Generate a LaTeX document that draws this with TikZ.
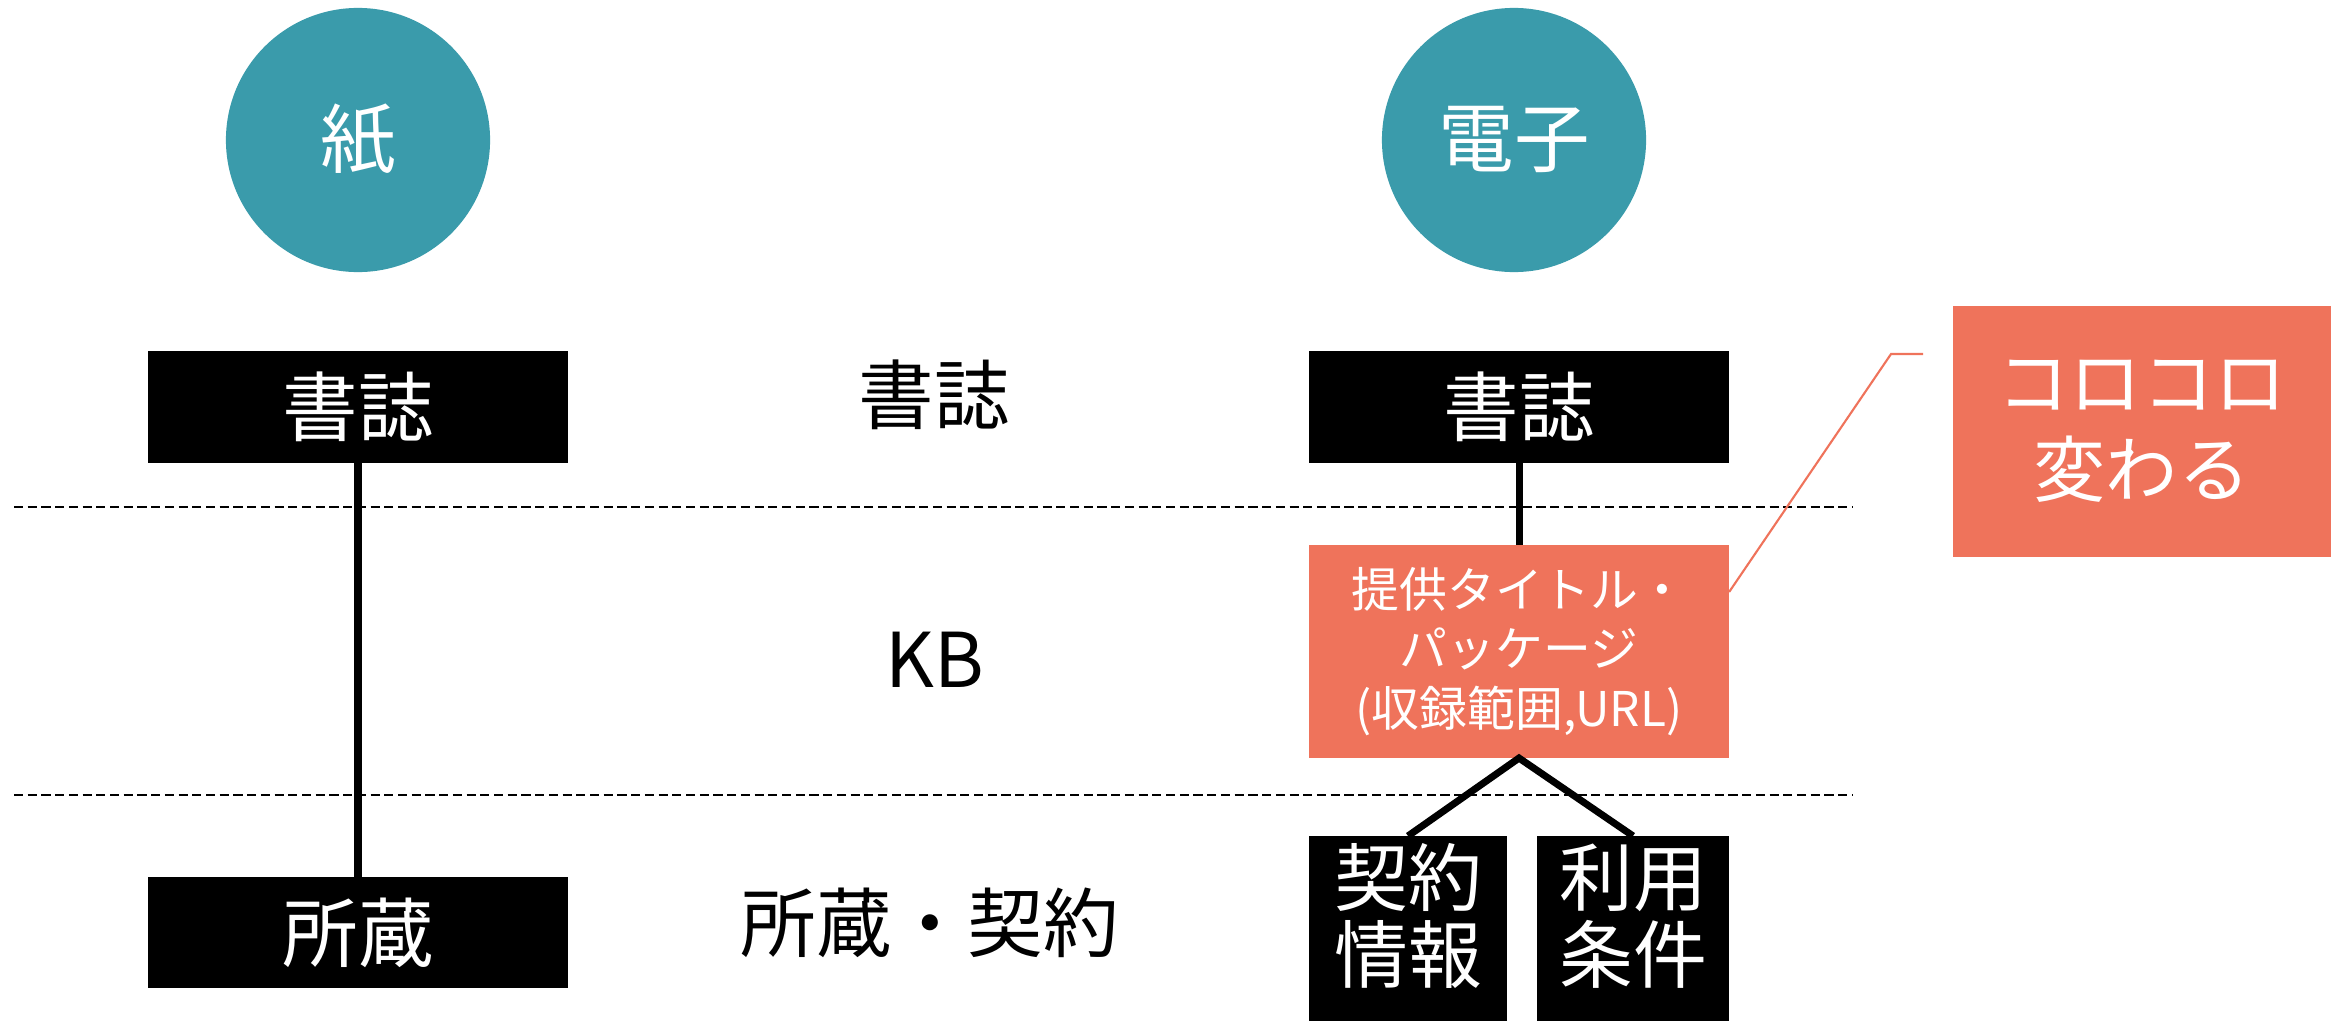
\documentclass[tikz,border=0pt]{standalone}
\usepackage{fontspec}
\setmainfont{Noto Sans CJK JP}
\definecolor{tealc}{RGB}{58,155,171}
\definecolor{coral}{RGB}{239,115,91}
\begin{document}
\begin{tikzpicture}[x=0.01cm,y=-0.01cm,
  bigfont/.style={font=\fontsize{21.5pt}{24pt}\selectfont},
  circ/.style={circle,fill=tealc,text=white,minimum size=2.64cm,inner sep=0pt,outer sep=0pt,bigfont},
  bbox/.style={fill=black,text=white,inner sep=0pt,outer sep=0pt,minimum width=4.2cm,minimum height=1.11cm,bigfont},
  plain/.style={text=black,inner sep=0pt,bigfont},
  obox/.style={fill=coral,text=white,inner sep=0pt,outer sep=0pt,align=center,font=\fontsize{13.6pt}{17pt}\selectfont},
  kbox/.style={fill=black,inner sep=0pt,outer sep=0pt,minimum height=1.85cm},
  ktext/.style={text=white,inner sep=0pt,align=center,font=\fontsize{21pt}{22pt}\selectfont},
  cbox/.style={fill=coral,text=white,inner sep=0pt,outer sep=0pt,align=center,minimum width=3.78cm,minimum height=2.51cm,font=\fontsize{20.5pt}{24.6pt}\selectfont},
  conn/.style={line width=2pt,black},
  sep/.style={line width=0.7pt,black,dash pattern=on 2.6pt off 1.3pt},
  callout/.style={line width=0.6pt,coral}
]
\useasboundingbox (0,0) rectangle (2343,1021);

% separators
\coordinate (s1a) at (14,507);
\coordinate (s1b) at (1852,507);
\coordinate (s2a) at (14,795);
\coordinate (s2b) at (1852,795);
\draw[sep] (s1a) -- (s1b);
\draw[sep] (s2a) -- (s2b);

% circles
\node[circ] (paper) at (358,140) {紙};
\node[circ] (elec) at (1514,140) {電子};

% left column
\node[bbox] (sho1) at (358,407) {書誌};
\node[bbox] (shozo) at (358,932.5) {所蔵};

% middle labels
\node[plain] (msho) at (934,395) {書誌};
\node[plain] (mkb) at (935,660) {KB};
\node[plain] (mshozo) at (930,923) {所蔵・契約};

% right column
\node[bbox] (sho2) at (1519,407) {書誌};
\node[obox,minimum width=4.2cm,minimum height=2.13cm] (kb) at (1519,651.5) {提供タイトル・\\パッケージ\\(収録範囲,URL)};
\node[kbox,minimum width=1.98cm] (kei) at (1408,928.5) {};
\node[ktext] (keit) at (1408,916) {契約\\情報};
\node[kbox,minimum width=1.92cm] (riy) at (1633,928.5) {};
\node[ktext] (riyt) at (1633,916) {利用\\条件};

% callout
\node[cbox] (note) at (2142,431.5) {コロコロ\\変わる};
\coordinate (cl1) at (1891,354);
\coordinate (cl2) at (1923,354);

% connectors
\draw[conn] (sho1.south) -- (shozo.north);
\draw[conn] (sho2.south) -- (kb.north);
\draw[conn,line join=miter] (kei.north) -- (kb.south) -- (riy.north);
\draw[callout] ([yshift=0.595cm]kb.east) -- (cl1) -- (cl2);
\end{tikzpicture}
\end{document}
